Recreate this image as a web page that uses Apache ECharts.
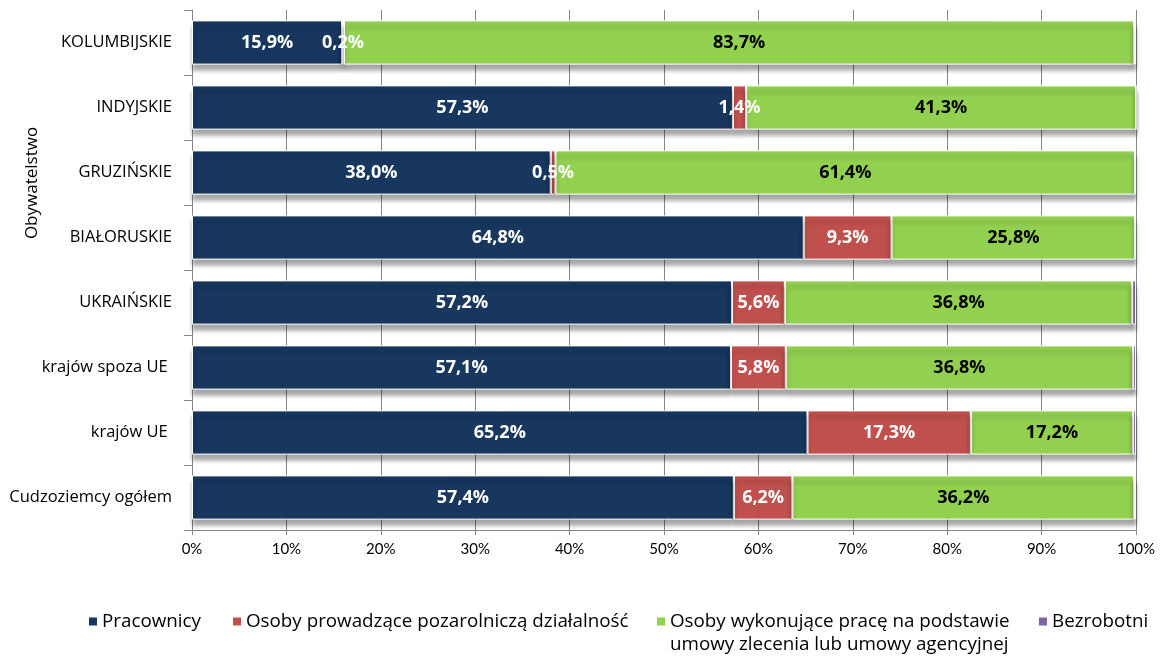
<!DOCTYPE html>
<html>
<head>
<meta charset="utf-8">
<script src="https://cdn.jsdelivr.net/npm/echarts@6/dist/echarts.min.js"></script>
<style>
html, body { margin: 0; padding: 0; background: #fff; }
#chart { width: 1160px; height: 657px; }
</style>
</head>
<body>
<div id="chart"></div>
<script>
var categories = ['Cudzoziemcy ogółem', 'krajów UE ', 'krajów spoza UE ', 'UKRAIŃSKIE', 'BIAŁORUSKIE', 'GRUZIŃSKIE', 'INDYJSKIE', 'KOLUMBIJSKIE'];
var seriesNames = [
    'Pracownicy',
    'Osoby prowadzące pozarolniczą działalność',
    'Osoby wykonujące pracę na podstawie\numowy zlecenia lub umowy agencyjnej',
    'Bezrobotni'
];
var pracownicy = [57.4, 65.2, 57.1, 57.2, 64.8, 38.0, 57.3, 15.9];
var pozarolnicza = [6.2, 17.3, 5.8, 5.6, 9.3, 0.5, 1.4, 0.2];
var zlecenia = [36.2, 17.2, 36.8, 36.8, 25.8, 61.4, 41.3, 83.7];
var bezrobotni = [0.2, 0.3, 0.3, 0.4, 0.1, 0.1, 0.0, 0.2];
var colors = ['#17375E', '#C0504D', '#92D050', '#8064A2'];
var labelColors = ['#fff', '#fff', '#000', null];
var legendLeft = [89, 233, 657, 1039];
var axisName = 'Obywatelstwo';

var FONT = 'Open Sans';

function fmtPct(p) {
    return p.value.toFixed(1).replace('.', ',') + '%';
}

var seriesData = [pracownicy, pozarolnicza, zlecenia, bezrobotni];
var series = [];
for (var i = 0; i < seriesData.length; i++) {
    series.push({
        name: seriesNames[i],
        type: 'bar',
        stack: 'total',
        barWidth: '68%',
        data: seriesData[i],
        itemStyle: {
            color: colors[i],
            borderColor: '#fff',
            borderWidth: 1,
            shadowColor: 'rgba(0,0,0,0.35)',
            shadowOffsetY: 6,
            shadowBlur: 4
        },
        label: {
            show: labelColors[i] !== null,
            position: 'inside',
            formatter: fmtPct,
            color: labelColors[i] || '#000',
            fontFamily: FONT,
            fontWeight: 'bold',
            fontSize: 18,
            textBorderWidth: 0
        }
    });
}

// one legend per item so each can sit where Excel put it;
// a wrapped name gets an empty first line so its first line lines up with the icon
var legends = [];
for (var j = 0; j < seriesNames.length; j++) {
    var multi = seriesNames[j].indexOf('\n') >= 0;
    legends.push({
        data: [seriesNames[j]],
        left: legendLeft[j],
        top: multi ? 587 : 610,
        padding: 0,
        icon: 'rect',
        itemWidth: 8,
        itemHeight: 8,
        itemStyle: { borderWidth: 0, shadowBlur: 0, shadowOffsetY: 0, shadowColor: 'rgba(0,0,0,0)' },
        formatter: function (name) {
            return name.indexOf('\n') >= 0 ? '\n' + name : name;
        },
        textStyle: { fontFamily: FONT, fontSize: 18.8, color: '#000', lineHeight: 23 }
    });
}

var chart = echarts.init(document.getElementById('chart'));
chart.setOption({
    animation: false,
    color: colors,
    grid: { left: 192, right: 24, top: 10, bottom: 127 },
    xAxis: {
        type: 'value',
        min: 0,
        max: 100,
        interval: 10,
        axisLine: { show: true, lineStyle: { color: '#868686' } },
        axisTick: { show: true, length: 5, lineStyle: { color: '#868686' } },
        splitLine: { show: true, lineStyle: { color: '#868686' } },
        axisLabel: {
            formatter: '{value}%',
            fontFamily: 'Lato',
            fontSize: 15,
            color: '#000',
            margin: 12
        }
    },
    yAxis: {
        type: 'category',
        data: categories,
        axisLine: { show: true, lineStyle: { color: '#868686' } },
        axisTick: { show: true, length: 8, lineStyle: { color: '#868686' } },
        axisLabel: {
            fontFamily: FONT,
            fontSize: 16.5,
            color: '#000',
            margin: 20
        }
    },
    legend: legends,
    graphic: [{
        type: 'text',
        x: 32,
        y: 183,
        rotation: Math.PI / 2,
        style: {
            text: axisName,
            fontFamily: FONT,
            fontSize: 17,
            fill: '#000',
            align: 'center',
            verticalAlign: 'middle'
        }
    }],
    series: series
});
</script>
</body>
</html>
